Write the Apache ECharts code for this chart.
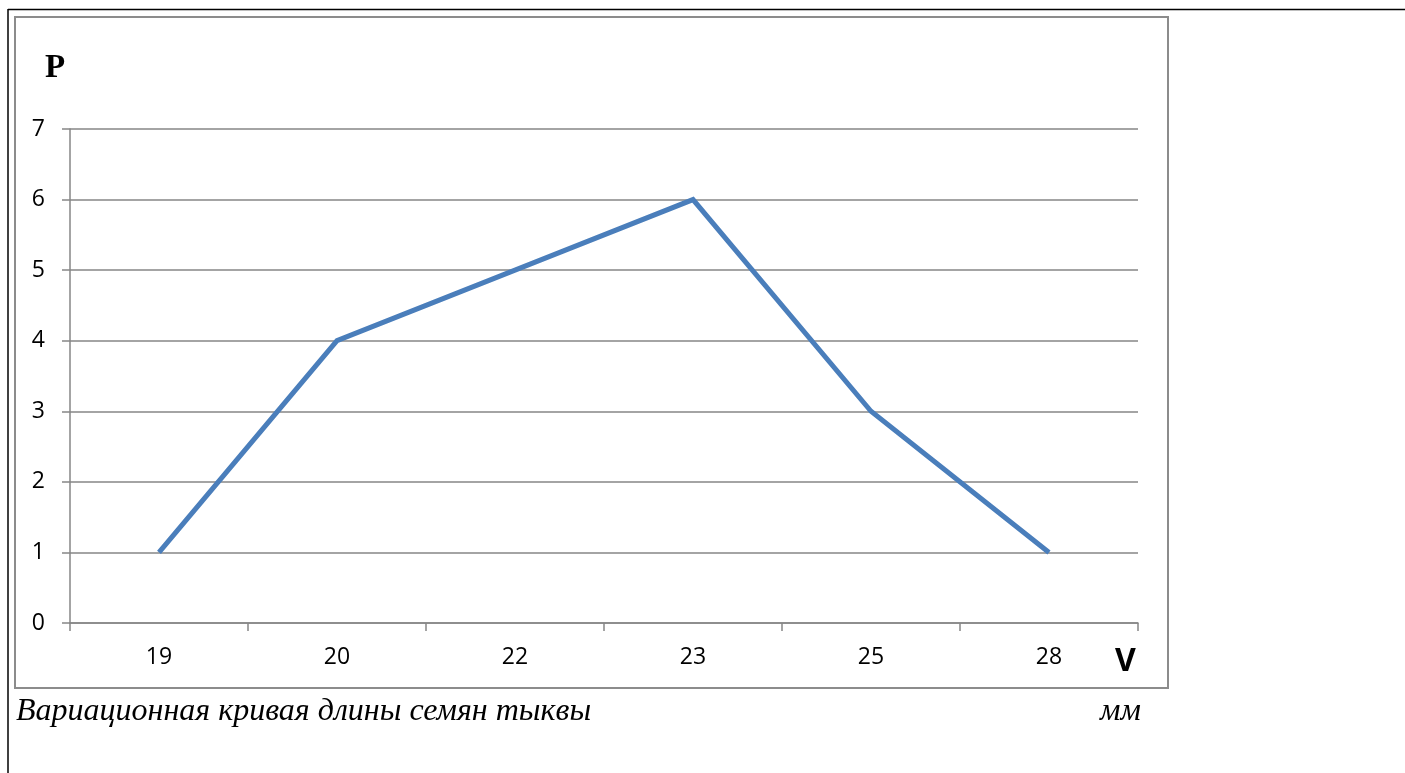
<!DOCTYPE html>
<html>
<head>
<meta charset="utf-8">
<script src="https://cdn.jsdelivr.net/npm/echarts@6/dist/echarts.min.js"></script>
<style>
html,body{margin:0;padding:0;background:#fff;}
#chart{width:1405px;height:773px;}
</style>
</head>
<body>
<div id="chart"></div>
<script>
var categories = ['19', '20', '22', '23', '25', '28'];
var pValues = [1, 4, 5, 6, 3, 1];
var yTicks = [0, 1, 2, 3, 4, 5, 6, 7];

var chart = echarts.init(document.getElementById('chart'), null, {renderer: 'canvas'});
var axisFont = '"Open Sans", "DejaVu Sans", sans-serif';
chart.setOption({
  animation: false,
  backgroundColor: '#ffffff',
  grid: {left: 70, right: 267, top: 129, bottom: 150, containLabel: false},
  xAxis: {
    type: 'category',
    data: categories,
    boundaryGap: true,
    axisLine: {show: true, lineStyle: {color: '#868686', width: 1.5}},
    axisTick: {show: true, length: 8, inside: false, alignWithLabel: false, lineStyle: {color: '#868686', width: 1.5}},
    axisLabel: {margin: 23, color: '#000', fontSize: 23, fontFamily: axisFont},
    splitLine: {show: false}
  },
  yAxis: {
    type: 'value',
    min: yTicks[0],
    max: yTicks[yTicks.length - 1],
    interval: 1,
    axisLine: {show: true, lineStyle: {color: '#868686', width: 1.5}},
    axisTick: {show: true, length: 8, lineStyle: {color: '#868686', width: 1.5}},
    axisLabel: {margin: 25, color: '#000', fontSize: 23, fontFamily: axisFont},
    splitLine: {show: true, lineStyle: {color: '#868686', width: 1.5}}
  },
  series: [{
    type: 'line',
    data: pValues,
    symbol: 'none',
    lineStyle: {color: '#4a7ebb', width: 5, join: 'miter'},
    itemStyle: {color: '#4a7ebb'}
  }],
  graphic: [
    {type: 'line', shape: {x1: 8, y1: 9.5, x2: 1405, y2: 9.5}, style: {stroke: '#000', lineWidth: 1.5}, silent: true},
    {type: 'line', shape: {x1: 8, y1: 9, x2: 8, y2: 773}, style: {stroke: '#000', lineWidth: 1.5}, silent: true},
    {type: 'rect', shape: {x: 15, y: 17, width: 1153, height: 671}, style: {fill: null, stroke: '#8c8c8c', lineWidth: 2}, silent: true},
    {type: 'text', left: 45, top: 52, style: {text: 'P', font: 'bold 33px "Liberation Serif", serif', fill: '#000'}, silent: true},
    {type: 'text', left: 1115, top: 646, style: {text: 'V', font: 'bold 32px "Open Sans", "DejaVu Sans", sans-serif', fill: '#000'}, silent: true},
    {type: 'text', left: 16, top: 696, style: {text: 'Вариационная кривая длины семян тыквы', font: 'italic 32px "Liberation Serif", serif', fill: '#000'}, silent: true},
    {type: 'text', left: 1100, top: 696, style: {text: 'мм', font: 'italic 32px "Liberation Serif", serif', fill: '#000'}, silent: true}
  ]
});
</script>
</body>
</html>
